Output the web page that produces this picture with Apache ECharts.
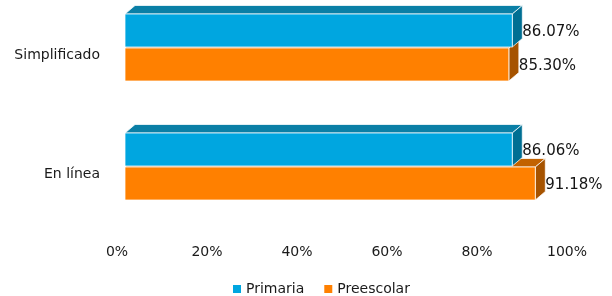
<!DOCTYPE html>
<html>
<head>
<meta charset="utf-8">
<script src="https://cdn.jsdelivr.net/npm/echarts@6/dist/echarts.min.js"></script>
<style>
  html, body { margin: 0; padding: 0; background: #fff; }
  #chart { width: 612px; height: 296px; }
</style>
</head>
<body>
<div id="chart"></div>
<script>
const categories = ['Simplificado', 'En línea'];
const primaria = [86.07, 86.06];
const preescolar = [85.30, 91.18];
const seriesNames = ['Primaria', 'Preescolar'];

// 3d look
const DX = 10, DY = -8.5, SHIFT = 8;
const palette = {
  Primaria: { front: '#00a6e0', top: '#0a7fa6', side: '#006f93' },
  Preescolar: { front: '#ff8000', top: '#c26200', side: '#a65300' }
};

function makeRender(name, topOff, botOff) {
  const col = palette[name];
  return function (params, api) {
    const cat = api.value(1);
    const v = api.value(0);
    const c0 = api.coord([0, cat]);
    const c1 = api.coord([v, cat]);
    const x0 = c0[0] + SHIFT, x1 = c1[0] + SHIFT;
    const t = c0[1] + topOff, b = c0[1] + botOff;
    const edge = { stroke: 'rgba(255,255,255,0.75)', lineWidth: 1 };
    return {
      type: 'group',
      children: [
        { type: 'polygon', shape: { points: [[x0, t], [x0 + DX, t + DY], [x1 + DX, t + DY], [x1, t]] },
          style: Object.assign({ fill: col.top }, edge) },
        { type: 'polygon', shape: { points: [[x1, t], [x1 + DX, t + DY], [x1 + DX, b + DY], [x1, b]] },
          style: Object.assign({ fill: col.side }, edge) },
        { type: 'rect', shape: { x: x0, y: t, width: x1 - x0, height: b - t },
          style: Object.assign({ fill: col.front }, edge) },
        { type: 'text', z2: 50, style: {
            text: v.toFixed(2) + '%', x: x1 + 10, y: (t + b) / 2 + 1.5,
            align: 'left', verticalAlign: 'middle',
            font: '15px "DejaVu Sans"', fill: '#151515' } }
      ]
    };
  };
}

const chart = echarts.init(document.getElementById('chart'));
chart.setOption({
  backgroundColor: '#fff',
  animation: false,
  textStyle: { fontFamily: 'DejaVu Sans' },
  legend: {
    data: seriesNames,
    left: 228,
    top: 277,
    icon: 'rect',
    itemWidth: 8,
    itemHeight: 8,
    itemGap: 20,
    textStyle: { fontSize: 14, color: '#1a1a1a' }
  },
  grid: { left: 117, right: 45, top: 0, bottom: 58 },
  xAxis: {
    type: 'value',
    min: 0,
    max: 100,
    interval: 20,
    axisLine: { show: false },
    axisTick: { show: false },
    splitLine: { show: false },
    axisLabel: { formatter: '{value}%', fontSize: 14, color: '#1a1a1a', margin: 7 }
  },
  yAxis: {
    type: 'category',
    inverse: true,
    data: categories,
    axisLine: { show: false },
    axisTick: { show: false },
    axisLabel: { fontSize: 14, color: '#1a1a1a', margin: 17, verticalAlign: 'bottom', lineHeight: 9 }
  },
  series: [
    {
      name: 'Preescolar',
      type: 'custom',
      z: 2,
      itemStyle: { color: palette.Preescolar.front },
      encode: { x: 0, y: 1 },
      renderItem: makeRender('Preescolar', -11.5, 21.5),
      data: preescolar.map((v, i) => [v, i])
    },
    {
      name: 'Primaria',
      type: 'custom',
      z: 3,
      itemStyle: { color: palette.Primaria.front },
      encode: { x: 0, y: 1 },
      renderItem: makeRender('Primaria', -45.5, -12.5),
      data: primaria.map((v, i) => [v, i])
    }
  ]
});
</script>
</body>
</html>
